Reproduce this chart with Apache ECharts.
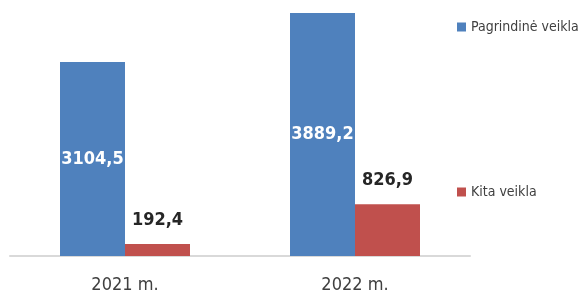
<!DOCTYPE html>
<html>
<head>
<meta charset="utf-8">
<script src="https://cdn.jsdelivr.net/npm/echarts@6/dist/echarts.min.js"></script>
<style>
  html, body { margin: 0; padding: 0; background: #fff; }
  #chart { width: 581px; height: 296px; }
</style>
</head>
<body>
<div id="chart"></div>
<script>
// metai ir veiklos reikšmės
const years = ['2021 m.', '2022 m.']
const seriesNames = ['Pagrindinė veikla', 'Kita veikla']
const mainValues = [3104.5, 3889.2]
const otherValues = [192.4, 826.9]

const font = '"DejaVu Sans Condensed", "DejaVu Sans", sans-serif'
const fmt = p => String(p.value).replace('.', ',')

const legendStyle = {
  orient: 'vertical',
  left: 452,
  icon: 'rect',
  itemWidth: 9,
  itemHeight: 9,
  itemGap: 5,
  textStyle: { fontSize: 14, color: '#404040', fontFamily: font }
}

const chart = echarts.init(document.getElementById('chart'))
chart.setOption({
  animation: false,
  textStyle: { fontFamily: font },
  grid: { left: 10, right: 111, top: 6, bottom: 40 },
  legend: [
    Object.assign({ data: [seriesNames[0]], top: 15 }, legendStyle),
    Object.assign({ data: [seriesNames[1]], top: 180 }, legendStyle)
  ],
  xAxis: {
    type: 'category',
    data: years,
    axisLine: { lineStyle: { color: '#D9D9D9', width: 2 } },
    axisTick: { show: false },
    axisLabel: { fontSize: 18, color: '#404040', margin: 20 }
  },
  yAxis: {
    type: 'value',
    min: 0,
    max: 4000,
    show: false,
    splitLine: { show: false }
  },
  series: [
    {
      name: seriesNames[0],
      type: 'bar',
      data: mainValues,
      barWidth: 65,
      barGap: '0%',
      itemStyle: { color: '#4F81BD' },
      label: {
        show: true,
        position: 'inside',
        formatter: fmt,
        color: '#fff',
        fontWeight: 'bold',
        fontSize: 18
      }
    },
    {
      name: seriesNames[1],
      type: 'bar',
      data: otherValues,
      barWidth: 65,
      barGap: '0%',
      itemStyle: { color: '#C0504D' },
      label: {
        show: true,
        position: 'top',
        distance: 15,
        formatter: fmt,
        color: '#262626',
        fontWeight: 'bold',
        fontSize: 18
      }
    }
  ]
})
</script>
</body>
</html>
